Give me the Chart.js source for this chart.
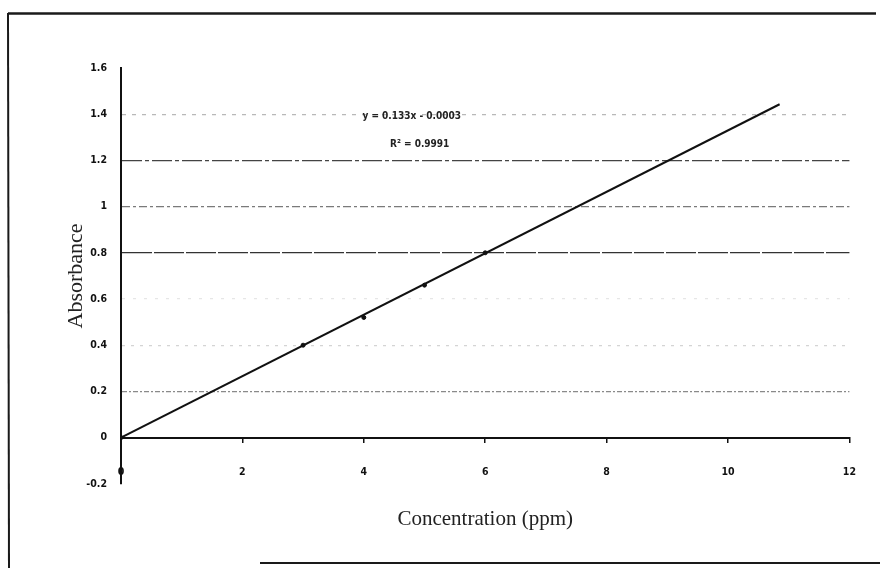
<!DOCTYPE html>
<html><head><meta charset="utf-8">
<script src="https://cdn.jsdelivr.net/npm/chart.js@4.4.1/dist/chart.umd.min.js"></script>
<style>html,body{margin:0;padding:0;background:#fff}#wrap{width:880px;height:568px;position:relative}</style>
</head><body><div id="wrap"><canvas id="c" width="880" height="568"></canvas></div>
<script>
// ---- data ----
const concentrations = [0, 3, 4, 5, 6];
const absorbances = [0, 0.40, 0.52, 0.66, 0.80];
const trendX = [0, 10.85];
const trendY = [-0.0003, 1.443];
const yTickLabels = ['-0.2', '0', '0.2', '0.4', '0.6', '0.8', '1', '1.2', '1.4', '1.6'];
const xTickLabels = ['0', '2', '4', '6', '8', '10', '12'];
const equationText = 'y = 0.133x - 0.0003';
const r2Text = 'R² = 0.9991';
const xAxisTitle = 'Concentration (ppm)';
const yAxisTitle = 'Absorbance';

// ---- styles ----
const eqAnchor = {x: 4.79, y: 1.39};
const r2Anchor = {x: 4.92, y: 1.27};
const gridShade = {'0.2': '#8a8a8a', '0.4': '#d4d4d4', '0.6': '#e6e6e6', '0.8': '#333', '1': '#7a7a7a', '1.2': '#444', '1.4': '#b8b8b8'};
const gridDash = {'0.2': [5, 2, 2, 2], '0.4': [3, 6], '0.6': [3, 8], '0.8': [30, 2], '1': [8, 3, 3, 3], '1.2': [20, 3, 4, 3], '1.4': [4, 6]};
const tickFont = {family: "'Liberation Sans Narrow', 'DejaVu Sans Condensed', Arial, sans-serif", size: 10.5, weight: 'bold'};
const serif = "'Liberation Serif', 'DejaVu Serif', serif";

function keyOf(v) { return String(Math.round(v * 10) / 10); }

const decor = {
  id: 'decor',
  beforeDraw(chart) {
    const c = chart.ctx;
    c.save(); c.fillStyle = '#fff'; c.fillRect(0, 0, chart.width, chart.height); c.restore();
  },
  afterDraw(chart) {
    const c = chart.ctx;
    c.save();
    c.strokeStyle = '#1a1a1a';
    c.lineWidth = 2.5;
    c.beginPath(); c.moveTo(8, 13.5); c.lineTo(876, 13.5); c.stroke();
    c.lineWidth = 2;
    c.beginPath(); c.moveTo(8, 13); c.lineTo(9, 568); c.stroke();
    c.beginPath(); c.moveTo(260, 563); c.lineTo(880, 563); c.stroke();
    const xs = chart.scales.x, ys = chart.scales.y;
    c.fillStyle = '#222';
    c.font = "bold 10px 'Liberation Sans Narrow', 'DejaVu Sans Condensed', sans-serif";
    c.textAlign = 'center'; c.textBaseline = 'middle';
    c.fillText(equationText, xs.getPixelForValue(eqAnchor.x), ys.getPixelForValue(eqAnchor.y));
    c.fillText(r2Text, xs.getPixelForValue(r2Anchor.x), ys.getPixelForValue(r2Anchor.y));
    c.restore();
  }
};

new Chart(document.getElementById('c'), {
  type: 'scatter',
  data: {
    datasets: [
      {
        label: 'Trendline',
        data: trendX.map((x, i) => ({x, y: trendY[i]})),
        showLine: true, borderColor: '#111', borderWidth: 2, pointRadius: 0, fill: false, order: 2
      },
      {
        label: 'Absorbance',
        data: concentrations.map((x, i) => ({x, y: absorbances[i]})),
        pointRadius: 2, pointBackgroundColor: '#111', pointBorderColor: '#111', order: 1
      }
    ]
  },
  options: {
    responsive: false,
    animation: false,
    devicePixelRatio: 1,
    layout: {padding: {left: 0, top: 68, right: 29, bottom: 36}},
    plugins: {
      legend: {display: false},
      tooltip: {enabled: false},
      title: {
        display: true, text: xAxisTitle, position: 'bottom', fullSize: false,
        color: '#222', font: {family: serif, size: 21, weight: 'normal'},
        padding: {top: 23, bottom: 0}
      }
    },
    scales: {
      x: {
        type: 'linear', min: 0, max: 12, position: {y: 0},
        ticks: {stepSize: 2, padding: 24, color: '#111', font: tickFont, callback: (v, i) => xTickLabels[i]},
        grid: {drawOnChartArea: false, drawTicks: true, tickLength: 4, color: '#111', lineWidth: 1.5},
        border: {display: true, color: '#111', width: 2},
        afterFit: s => { s.height = 38; }
      },
      y: {
        type: 'linear', min: -0.2, max: 1.6, position: 'left',
        ticks: {stepSize: 0.2, padding: 14, color: '#111', font: tickFont, callback: (v, i) => yTickLabels[i]},
        grid: {
          drawTicks: false, lineWidth: 1.3,
          color: ctx => (ctx.tick && gridShade[keyOf(ctx.tick.value)]) || 'rgba(0,0,0,0)'
        },
        border: {
          display: true, color: '#111', width: 2,
          dash: ctx => (ctx.tick && gridDash[keyOf(ctx.tick.value)]) || []
        },
        title: {
          display: true, text: yAxisTitle, color: '#222',
          font: {family: serif, size: 22, weight: 'normal'}, padding: {top: 63, bottom: 0}
        },
        afterFit: s => { s.width = 121; }
      }
    }
  },
  plugins: [decor]
});
</script></body></html>
